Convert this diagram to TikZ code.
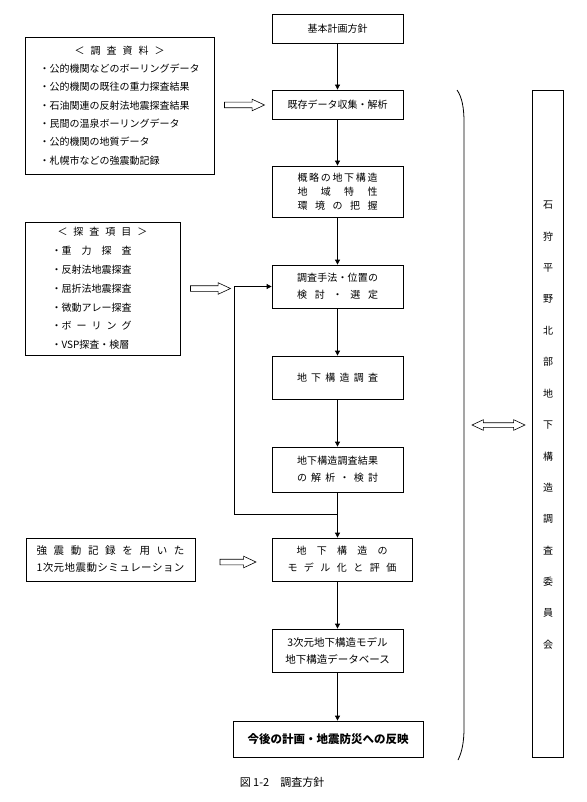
\documentclass[tikz,border=0pt]{standalone}
\usepackage{fontspec}
\setmainfont{Noto Sans CJK JP}
\usetikzlibrary{arrows.meta,shapes.arrows}
\newcommand{\spaced}[2]{{\spaceskip=0pt plus 1fil\makebox[#1][s]{#2}}}

\begin{document}
\begin{tikzpicture}[x=1pt,y=-1pt,line width=0.8pt,
  >={Triangle[length=5pt,width=5pt]},
  box/.style={draw,align=center,minimum width=131pt,inner sep=0pt,font=\fontsize{10}{17}\selectfont},
  srcbox/.style={draw,inner sep=0pt,font=\fontsize{10}{18.3}\selectfont},
  hollow/.style={draw,single arrow,single arrow head extend=3pt,single arrow tip angle=50,inner sep=2.5pt,minimum height=40pt,line width=0.6pt},
  twoway/.style={draw,double arrow,double arrow head extend=3pt,double arrow tip angle=50,inner sep=2pt,minimum height=53pt,line width=0.6pt}]

\useasboundingbox (0,0) rectangle (586,802);

% main flow
\node[box,minimum height=29pt] (plan) at (337.5,29) {基本計画方針};
\node[box,minimum height=29pt] (exist) at (337.5,104.5) {既存データ収集・解析};
\node[box,minimum height=51pt,font=\fontsize{10}{14}\selectfont] (gairyaku) at (337.5,191.5) {\spaced{80pt}{概 略 の 地 下 構 造}\\\spaced{80pt}{地 域 特 性}\\\spaced{80pt}{環 境 の 把 握}};
\node[box,minimum height=43pt] (method) at (337.5,286.5) {\spaced{81pt}{調 査 手 法 ・ 位 置 の}\\\spaced{81pt}{検 討 ・ 選 定}};
\node[box,minimum height=43pt] (survey) at (337.5,377.5) {\spaced{81pt}{地 下 構 造 調 査}};
\node[box,minimum height=45pt] (result) at (337.5,469.5) {\spaced{81pt}{地 下 構 造 調 査 結 果}\\\spaced{81pt}{の 解 析 ・ 検 討}};
\node[box,minimum width=140pt,minimum height=43pt] (model) at (342,559.5) {\spaced{91pt}{地 下 構 造 の}\\\spaced{109pt}{モ デ ル 化 と 評 価}};
\node[box,minimum height=43pt,font=\fontsize{10.5}{17}\selectfont] (db) at (337.5,650.5) {3次元地下構造モデル\\地下構造データベース};
\node[box,minimum width=190pt,minimum height=36pt,font=\fontsize{11.5}{14}\selectfont\bfseries] (final) at (328,739) {今後の計画・地震防災への反映};

% inputs on the left
\node[srcbox,minimum width=189pt,minimum height=137pt] (shiryo) at (119.5,105.5) {\begin{tabular}{@{}l@{}}
\multicolumn{1}{c}{\spaced{90pt}{＜ 調 査 資 料 ＞}}\\
・公的機関などのボーリングデータ\\
・公的機関の既往の重力探査結果\\
・石油関連の反射法地震探査結果\\
・民間の温泉ボーリングデータ\\
・公的機関の地質データ\\
・札幌市などの強震動記録
\end{tabular}};
\node[srcbox,minimum width=155pt,minimum height=133pt,font=\fontsize{10}{18.8}\selectfont] (koumoku) at (102.5,288.5) {\begin{tabular}{@{}l@{}}
\multicolumn{1}{c}{\spaced{90pt}{＜ 探 査 項 目 ＞}}\\
・\spaced{70pt}{重 力 探 査}\\
・反射法地震探査\\
・屈折法地震探査\\
・微動アレー探査\\
・\spaced{70pt}{ボ ー リ ン グ}\\
・VSP探査・検層
\end{tabular}};
\node[draw,align=center,minimum width=169pt,minimum height=43pt,inner sep=0pt,font=\fontsize{10.5}{17}\selectfont] (kyoshin) at (110.5,559.5) {\spaced{148pt}{強 震 動 記 録 を 用 い た}\\\spaced{148pt}{1 次 元 地 震 動 シ ミ ュ レ ー シ ョ ン}};

\node[hollow] (h1) at (241.5,105) {};
\node[hollow] (h2) at (207.5,288.5) {};
\node[hollow,minimum height=36pt] (h3) at (235,562) {};

% arrows
\draw[->] (plan) -- (exist);
\draw[->] (exist) -- (gairyaku);
\draw[->] (gairyaku) -- (method);
\draw[->] (method) -- (survey);
\draw[->] (survey) -- (result);
\coordinate (fb) at (337.5,514);
\coordinate (fbl) at (234,514);
\draw (result) -- (fb);
\draw[->] (fb) -- (model.north -| fb);
\draw[->] (fb) -- (fbl) |- (method.west);
\draw[->] (model.south -| db) -- (db);
\draw[->] (db) -- (final.north -| db);

% committee
\draw (457,90) .. controls (462,97) and (464,108) .. (464,122) -- (464,728) .. controls (464,742) and (462,752) .. (458,760);
\node[twoway] (h4) at (498.5,425) {};
\node[draw,minimum width=31pt,minimum height=667pt] (iinkai) at (547.5,423.5) {};
\foreach \ch [count=\i from 0] in {石,狩,平,野,北,部,地,下,構,造,調,査,委,員,会}
  \node[font=\fontsize{10}{12}\selectfont] (c\i) at (548,205+31.4*\i) {\ch};

\node[font=\fontsize{11}{13}\selectfont] (caption) at (282,782) {図 1-2　調査方針};

\end{tikzpicture}
\end{document}
